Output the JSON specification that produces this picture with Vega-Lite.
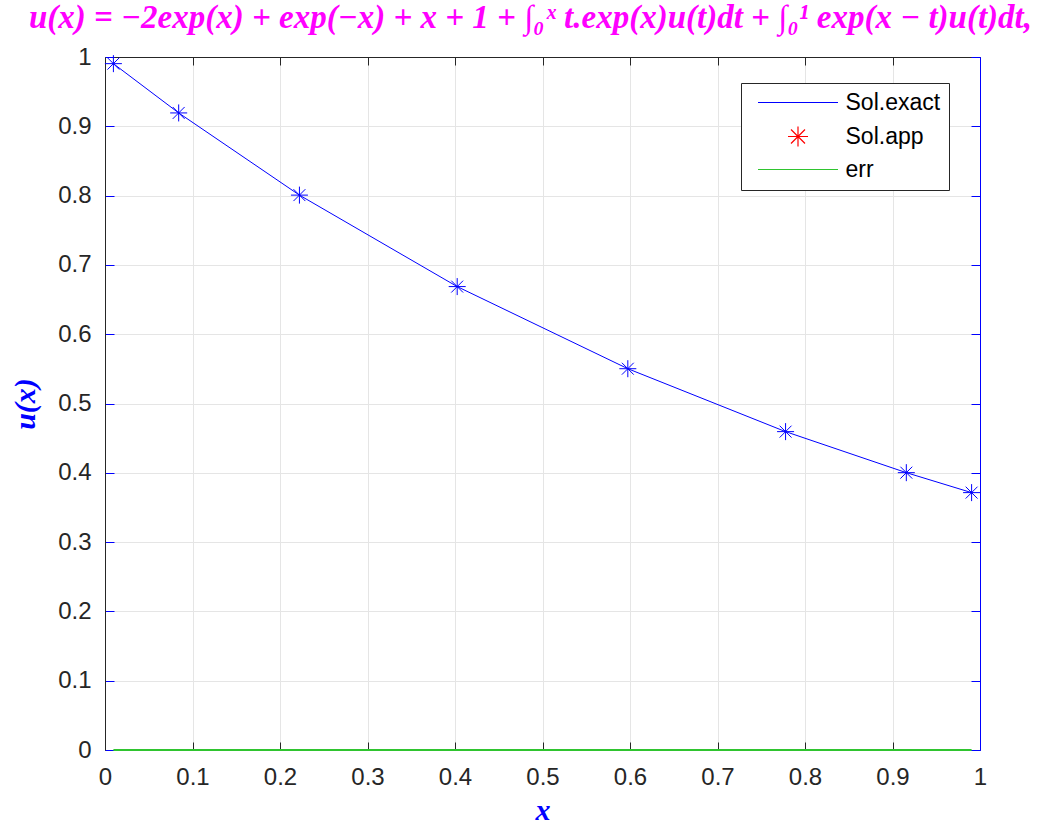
{
  "$schema": "https://vega.github.io/schema/vega-lite/v6.json",
  "width": 875,
  "height": 693,
  "autosize": {"type": "none"},
  "padding": {"left": 105, "top": 57, "right": 75, "bottom": 76},
  "background": "white",
  "config": {
    "view": {"stroke": null},
    "axis": {"labelFont": "Liberation Sans", "labelColor": "#262626", "gridColor": "#e5e5e5", "gridWidth": 1}
  },
  "title": {
    "text": "u(x) = −2exp(x) + exp(−x) + x + 1 + ∫₀ˣ t.exp(x)u(t)dt + ∫₀¹ exp(x − t)u(t)dt,",
    "anchor": "middle",
    "frame": "group",
    "color": "#ff00ff",
    "font": "Liberation Serif",
    "fontStyle": "italic",
    "fontWeight": "bold",
    "fontSize": 33,
    "baseline": "alphabetic",
    "offset": -16,
    "dx": -12
  },
  "data": {
    "values": [
      {"series": "Sol.exact", "x": 0.0096, "y": 0.9904},
      {"series": "Sol.exact", "x": 0.0842, "y": 0.9193},
      {"series": "Sol.exact", "x": 0.2222, "y": 0.8007},
      {"series": "Sol.exact", "x": 0.4025, "y": 0.6687},
      {"series": "Sol.exact", "x": 0.5975, "y": 0.5502},
      {"series": "Sol.exact", "x": 0.7778, "y": 0.4594},
      {"series": "Sol.exact", "x": 0.9158, "y": 0.4002},
      {"series": "Sol.exact", "x": 0.9904, "y": 0.3714},
      {"series": "Sol.app", "x": 0.0096, "y": 0.9904},
      {"series": "Sol.app", "x": 0.0842, "y": 0.9193},
      {"series": "Sol.app", "x": 0.2222, "y": 0.8007},
      {"series": "Sol.app", "x": 0.4025, "y": 0.6687},
      {"series": "Sol.app", "x": 0.5975, "y": 0.5502},
      {"series": "Sol.app", "x": 0.7778, "y": 0.4594},
      {"series": "Sol.app", "x": 0.9158, "y": 0.4002},
      {"series": "Sol.app", "x": 0.9904, "y": 0.3714},
      {"series": "err", "x": 0.0096, "y": 0},
      {"series": "err", "x": 0.0842, "y": 0},
      {"series": "err", "x": 0.2222, "y": 0},
      {"series": "err", "x": 0.4025, "y": 0},
      {"series": "err", "x": 0.5975, "y": 0},
      {"series": "err", "x": 0.7778, "y": 0},
      {"series": "err", "x": 0.9158, "y": 0},
      {"series": "err", "x": 0.9904, "y": 0}
    ]
  },
  "layer": [
    {
      "transform": [{"filter": "datum.series == 'Sol.exact'"}],
      "mark": {"type": "line", "color": "#0000ff", "strokeWidth": 1},
      "encoding": {
        "x": {
          "field": "x", "type": "quantitative",
          "scale": {"domain": [0, 1], "nice": false, "zero": false},
          "axis": {
            "orient": "bottom",
            "values": [0, 0.1, 0.2, 0.3, 0.4, 0.5, 0.6, 0.7, 0.8, 0.9, 1],
            "format": "~g",
            "grid": true,
            "labelFlush": false,
            "tickSize": -8, "tickColor": "#262626",
            "domainColor": "#0000ff",
            "labelPadding": 23, "labelFontSize": 24,
            "title": "x", "titleColor": "#0000ff", "titleFont": "Liberation Serif",
            "titleFontStyle": "italic", "titleFontWeight": "bold", "titleFontSize": 30,
            "titlePadding": 6
          }
        },
        "y": {
          "field": "y", "type": "quantitative",
          "scale": {"domain": [0, 1], "nice": false, "zero": false},
          "axis": {
            "orient": "left",
            "values": [0, 0.1, 0.2, 0.3, 0.4, 0.5, 0.6, 0.7, 0.8, 0.9, 1],
            "format": "~g",
            "grid": true,
            "labelFlush": false,
            "tickSize": -9, "tickColor": "#0000ff",
            "domainColor": "#262626",
            "labelPadding": 23, "labelFontSize": 24,
            "title": "u(x)", "titleColor": "#0000ff", "titleFont": "Liberation Serif",
            "titleFontStyle": "italic", "titleFontWeight": "bold", "titleFontSize": 30,
            "titlePadding": 17
          }
        }
      }
    },
    {
      "transform": [{"filter": "datum.series == 'err'"}],
      "mark": {"type": "line", "color": "#2fc42f", "strokeWidth": 2},
      "encoding": {
        "x": {
          "field": "x", "type": "quantitative",
          "axis": {
            "orient": "top",
            "values": [0, 0.1, 0.2, 0.3, 0.4, 0.5, 0.6, 0.7, 0.8, 0.9, 1],
            "labels": false, "grid": false,
            "tickSize": -8, "tickColor": "#262626",
            "domainColor": "#262626", "title": null
          }
        },
        "y": {
          "field": "y", "type": "quantitative",
          "axis": {
            "orient": "right",
            "values": [0, 0.1, 0.2, 0.3, 0.4, 0.5, 0.6, 0.7, 0.8, 0.9, 1],
            "labels": false, "grid": false,
            "tickSize": -9, "tickColor": "#0000ff",
            "domainColor": "#0000ff", "title": null
          }
        }
      }
    },
    {
      "transform": [{"filter": "datum.series == 'Sol.app'"}],
      "mark": {"type": "point", "filled": false, "size": 256, "strokeWidth": 1, "opacity": 0},
      "encoding": {
        "x": {"field": "x", "type": "quantitative", "axis": null},
        "y": {"field": "y", "type": "quantitative", "axis": null},
        "color": {
          "field": "series", "type": "nominal",
          "scale": {"domain": ["Sol.exact", "Sol.app", "err"], "range": ["#0000ff", "#ff0000", "#2fc42f"]},
          "legend": {
            "orient": "none", "legendX": 636, "legendY": 26,
            "title": null,
            "strokeColor": "#262626", "fillColor": "white",
            "padding": 8,
            "symbolSize": 400, "symbolOffset": 37.5, "symbolStrokeWidth": 1.2, "symbolOpacity": 1,
            "labelOffset": 36, "rowPadding": 9,
            "labelFont": "Liberation Sans", "labelFontSize": 23, "labelColor": "#000000",
            "labelExpr": "datum.label == 'Sol.app' ? '\u00a0Sol.app' : datum.label"
          }
        },
        "shape": {
          "field": "series", "type": "nominal",
          "scale": {
            "domain": ["Sol.exact", "Sol.app", "err"],
            "range": ["M-4,0L4,0", "M-1,0L1,0M0,-1L0,1M-0.7,-0.7L0.7,0.7M-0.7,0.7L0.7,-0.7", "M-4,0L4,0"]
          }
        }
      }
    },
    {
      "transform": [{"filter": "datum.series == 'Sol.exact'"}],
      "mark": {"type": "point", "filled": false, "size": 289, "strokeWidth": 1, "opacity": 1, "color": "#0000ff",
               "shape": "M-1,0L1,0M0,-1L0,1M-0.7,-0.7L0.7,0.7M-0.7,0.7L0.7,-0.7"},
      "encoding": {
        "x": {"field": "x", "type": "quantitative", "axis": null},
        "y": {"field": "y", "type": "quantitative", "axis": null}
      }
    }
  ]
}
